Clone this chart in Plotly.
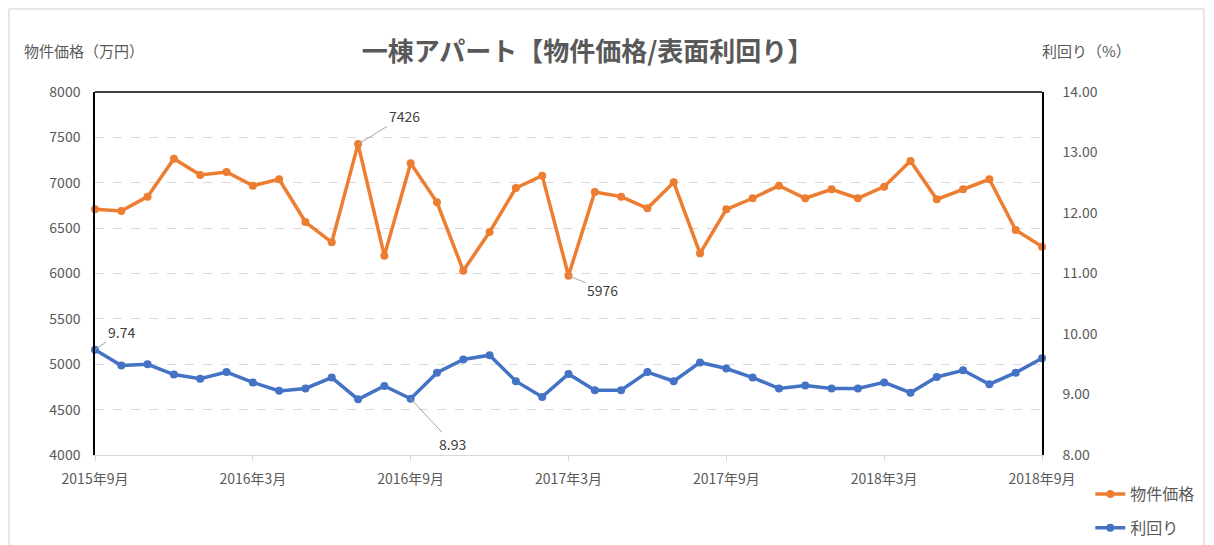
import plotly.graph_objects as go

months = ["2015年9月", "2015年10月", "2015年11月", "2015年12月",
          "2016年1月", "2016年2月", "2016年3月", "2016年4月", "2016年5月", "2016年6月",
          "2016年7月", "2016年8月", "2016年9月", "2016年10月", "2016年11月", "2016年12月",
          "2017年1月", "2017年2月", "2017年3月", "2017年4月", "2017年5月", "2017年6月",
          "2017年7月", "2017年8月", "2017年9月", "2017年10月", "2017年11月", "2017年12月",
          "2018年1月", "2018年2月", "2018年3月", "2018年4月", "2018年5月", "2018年6月",
          "2018年7月", "2018年8月", "2018年9月"]

price = [6707, 6689, 6847, 7265, 7085, 7118, 6968, 7038, 6567, 6343,
         7426, 6196, 7214, 6784, 6031, 6457, 6942, 7078, 5976, 6898,
         6847, 6718, 7005, 6222, 6707, 6829, 6968, 6829, 6928, 6829,
         6957, 7240, 6818, 6928, 7038, 6479, 6296]

yield_pct = [9.74, 9.48, 9.50, 9.33, 9.26, 9.37, 9.20, 9.06, 9.10, 9.28,
             8.92, 9.14, 8.93, 9.36, 9.58, 9.65, 9.22, 8.96, 9.34, 9.07,
             9.07, 9.37, 9.22, 9.53, 9.43, 9.28, 9.10, 9.15, 9.10, 9.10,
             9.20, 9.03, 9.29, 9.40, 9.17, 9.36, 9.60]

tick_labels = ["2015年9月", "2016年3月", "2016年9月", "2017年3月",
               "2017年9月", "2018年3月", "2018年9月"]

series_names = ["物件価格", "利回り"]
title_text = "一棟アパート【物件価格/表面利回り】"
left_title = "物件価格（万円）"
right_title = "利回り（%）"

FONT = "Noto Sans CJK JP"
GRAY = "#595959"
ORANGE = "#ED7D31"
BLUE = "#4472C4"

x_idx = list(range(len(months)))
tick_idx = [months.index(t) for t in tick_labels]

fig = go.Figure()
fig.add_trace(go.Scatter(
    x=x_idx, y=price, name=series_names[0], mode="lines+markers",
    line=dict(color=ORANGE, width=3.5), marker=dict(size=8, color=ORANGE),
    cliponaxis=False, yaxis="y", legendgroup="a"))
fig.add_trace(go.Scatter(
    x=x_idx, y=yield_pct, name=series_names[1], mode="lines+markers",
    line=dict(color=BLUE, width=3.5), marker=dict(size=8, color=BLUE),
    cliponaxis=False, yaxis="y2", legendgroup="b"))

def label(i, vals, yref, text, ax, ay):
    return dict(x=x_idx[i], y=vals[i], xref="x", yref=yref, text=text,
                showarrow=True, arrowhead=0, arrowwidth=1, arrowcolor="#a6a6a6",
                ax=ax, ay=ay, font=dict(family=FONT, size=14, color="#404040"))

imax = price.index(max(price))
imin = price.index(min(price))
jmax = yield_pct.index(max(yield_pct))
jmin = 12

annotations = [
    label(imax, price, "y", f"{price[imax]}", 46, -28),
    label(imin, price, "y", f"{price[imin]}", 34, 14),
    label(jmax, yield_pct, "y2", f"{yield_pct[jmax]:.2f}", 26, -18),
    label(jmin, yield_pct, "y2", f"{yield_pct[jmin]:.2f}", 42, 45),
    dict(x=-0.0771, y=1.1157, xref="paper", yref="paper", text=left_title,
         showarrow=False, xanchor="left", yanchor="middle",
         font=dict(family=FONT, size=15, color=GRAY)),
    dict(x=0.9979, y=1.1157, xref="paper", yref="paper", text=right_title,
         showarrow=False, xanchor="left", yanchor="middle",
         font=dict(family=FONT, size=15, color=GRAY)),
]

fig.update_layout(
    width=1206, height=537,
    margin=dict(l=87, r=172, t=84, b=90),
    paper_bgcolor="white", plot_bgcolor="white",
    font=dict(family=FONT, color=GRAY),
    title=dict(text="<b>" + title_text + "</b>", x=0.4805, xanchor="center",
               y=0.918, yanchor="middle",
               font=dict(family=FONT, size=26, color=GRAY)),
    xaxis=dict(range=[0, 36], tickmode="array", tickvals=tick_idx, ticktext=tick_labels,
               showgrid=False, zeroline=False, showline=True, linecolor="#d9d9d9",
               linewidth=1, ticks="outside", ticklen=5, tickcolor="#d9d9d9",
               ticklabelstandoff=6, automargin=False,
               tickfont=dict(family=FONT, size=14, color=GRAY)),
    yaxis=dict(range=[4000, 8000], dtick=500, showgrid=True, gridcolor="#d9d9d9",
               griddash="dash", gridwidth=1, zeroline=False, showline=True,
               linecolor="black", linewidth=1.5, ticks="outside", ticklen=10,
               tickcolor="rgba(0,0,0,0)", automargin=False,
               tickfont=dict(family=FONT, size=14, color=GRAY)),
    yaxis2=dict(range=[8, 14], dtick=1, tickformat=".2f", overlaying="y", side="right",
                showgrid=False, zeroline=False, showline=True, linecolor="black",
                linewidth=1.5, ticks="outside", ticklen=16, tickcolor="rgba(0,0,0,0)",
                automargin=False,
                tickfont=dict(family=FONT, size=14, color=GRAY)),
    legend=dict(x=1.051, y=0.1266, xref="paper", yref="container",
                xanchor="left", yanchor="top", orientation="v",
                font=dict(family=FONT, size=16, color=GRAY), bgcolor="rgba(0,0,0,0)",
                tracegroupgap=10),
    annotations=annotations,
    shapes=[
        dict(type="line", xref="paper", yref="paper", x0=0, x1=1, y0=1, y1=1,
             line=dict(color="black", width=1.5)),
        dict(type="line", xref="paper", yref="paper", x0=-0.0908, x1=1.171, y0=1.2287, y1=1.2287,
             line=dict(color="#d0d0d0", width=1)),
        dict(type="line", xref="paper", yref="paper", x0=-0.0908, x1=-0.0908, y0=1.2287, y1=-0.26,
             line=dict(color="#d0d0d0", width=1)),
        dict(type="line", xref="paper", yref="paper", x0=1.171, x1=1.171, y0=1.2287, y1=-0.26,
             line=dict(color="#d0d0d0", width=1)),
    ],
)

fig.write_html("out.html")
